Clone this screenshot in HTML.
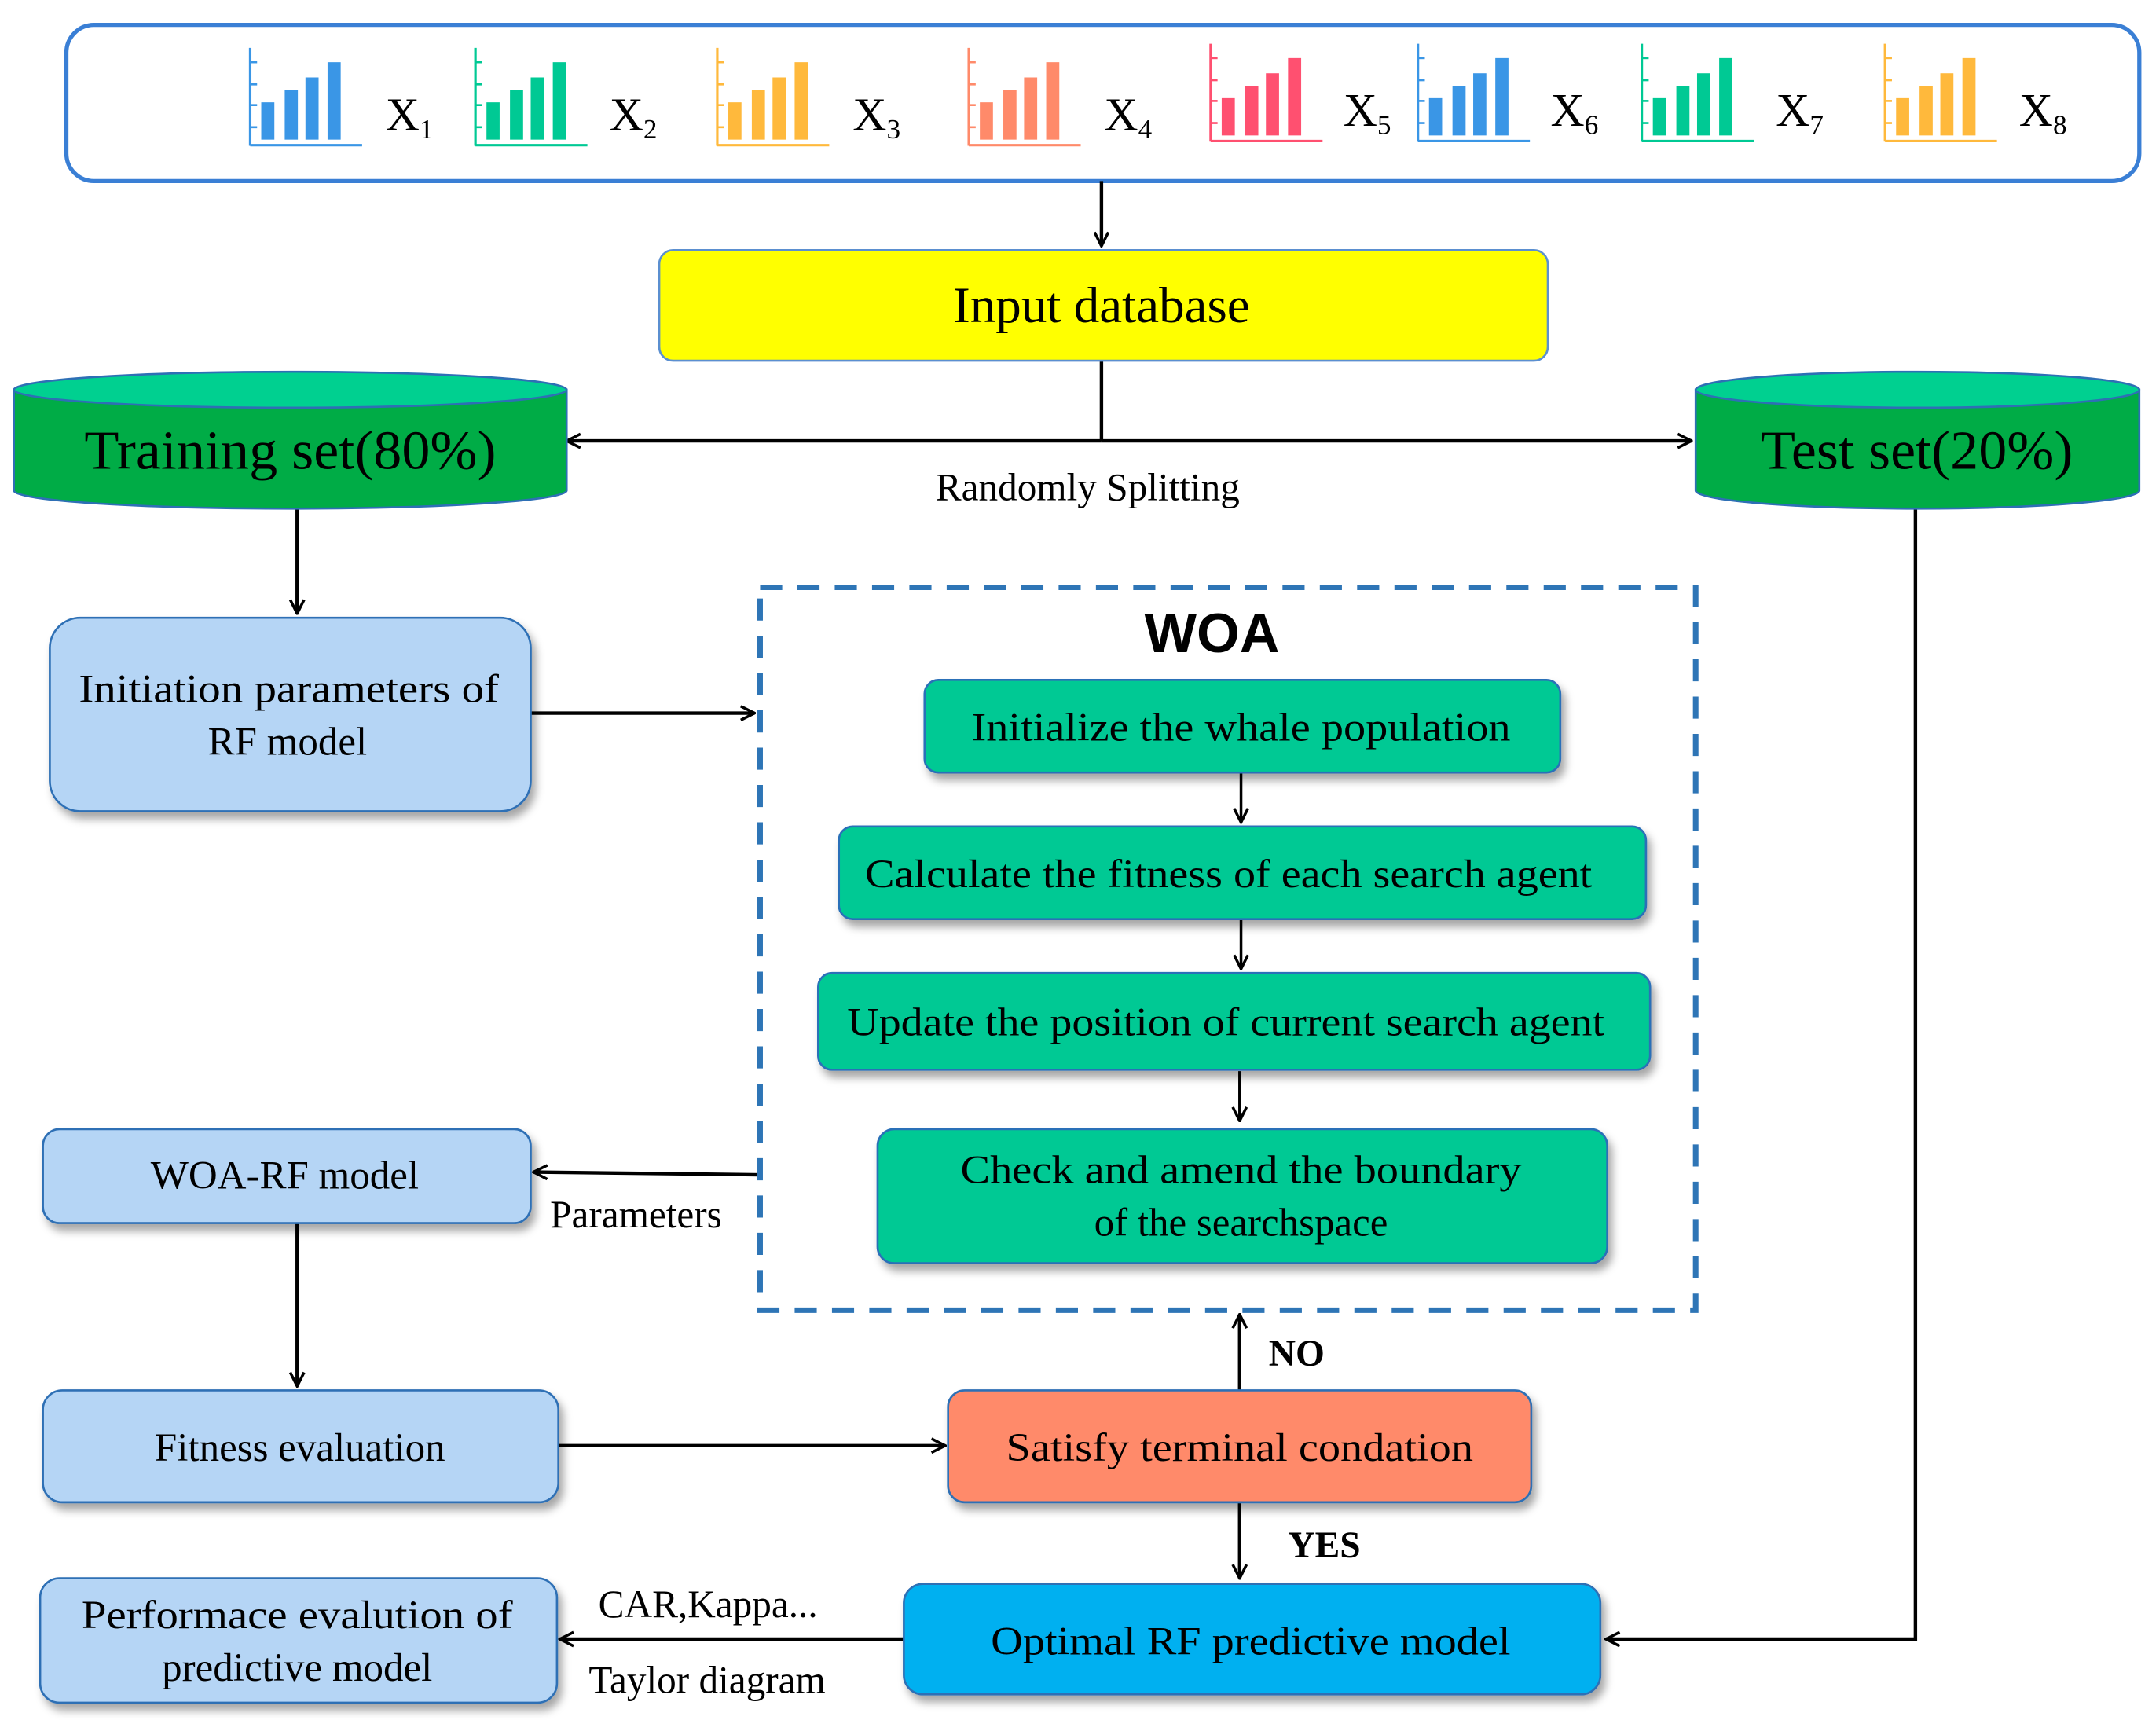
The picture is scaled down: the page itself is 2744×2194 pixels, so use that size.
<!DOCTYPE html>
<html><head><meta charset="utf-8"><style>
html,body{margin:0;padding:0;background:#fff}
svg{display:block}
text{font-family:"Liberation Serif",serif;fill:#000}
</style></head><body>
<svg width="2744" height="2194" viewBox="0 0 1560 1247.4" xmlns="http://www.w3.org/2000/svg">
<defs>
<marker id="ar" viewBox="0 0 12 12" refX="11" refY="6" markerWidth="12" markerHeight="12" markerUnits="userSpaceOnUse" orient="auto">
<path d="M1 1 L11 6 L1 11" fill="none" stroke="#000" stroke-width="2"/>
</marker>
<filter id="sh" x="-10%" y="-10%" width="130%" height="140%">
<feDropShadow dx="3" dy="5" stdDeviation="3" flood-color="#000" flood-opacity="0.35"/>
</filter>
<g id="bars">
<line x1="181" y1="34.6" x2="181" y2="105" stroke="C" stroke-width="1.8"/>
</g>
</defs>

<!-- top box -->
<rect x="48" y="18" width="1500" height="113" rx="20" fill="#fff" stroke="#3a7fd5" stroke-width="3"/>

<!-- icons -->
<g id="ic">
</g>
<script>
</script>
<g>
<!-- icon template repeated -->
<g transform="translate(0,0)" fill="#3a96e6" stroke="#3a96e6">
<line x1="181" y1="34.6" x2="181" y2="105.5" stroke-width="1.8"/><line x1="181" y1="105" x2="262" y2="105" stroke-width="1.8"/>
<g stroke-width="1.5"><line x1="181" y1="45" x2="186" y2="45"/><line x1="181" y1="61" x2="186" y2="61"/><line x1="181" y1="76" x2="186" y2="76"/><line x1="181" y1="92" x2="186" y2="92"/></g>
<rect x="189" y="74" width="9.5" height="27" stroke="none"/><rect x="206" y="65" width="9.5" height="36" stroke="none"/><rect x="221" y="56" width="9.5" height="45" stroke="none"/><rect x="237" y="45" width="9.5" height="56" stroke="none"/>
</g>
<g transform="translate(163,0)" fill="#00c994" stroke="#00c994">
<line x1="181" y1="34.6" x2="181" y2="105.5" stroke-width="1.8"/><line x1="181" y1="105" x2="262" y2="105" stroke-width="1.8"/>
<g stroke-width="1.5"><line x1="181" y1="45" x2="186" y2="45"/><line x1="181" y1="61" x2="186" y2="61"/><line x1="181" y1="76" x2="186" y2="76"/><line x1="181" y1="92" x2="186" y2="92"/></g>
<rect x="189" y="74" width="9.5" height="27" stroke="none"/><rect x="206" y="65" width="9.5" height="36" stroke="none"/><rect x="221" y="56" width="9.5" height="45" stroke="none"/><rect x="237" y="45" width="9.5" height="56" stroke="none"/>
</g>
<g transform="translate(338,0)" fill="#ffb93c" stroke="#ffb93c">
<line x1="181" y1="34.6" x2="181" y2="105.5" stroke-width="1.8"/><line x1="181" y1="105" x2="262" y2="105" stroke-width="1.8"/>
<g stroke-width="1.5"><line x1="181" y1="45" x2="186" y2="45"/><line x1="181" y1="61" x2="186" y2="61"/><line x1="181" y1="76" x2="186" y2="76"/><line x1="181" y1="92" x2="186" y2="92"/></g>
<rect x="189" y="74" width="9.5" height="27" stroke="none"/><rect x="206" y="65" width="9.5" height="36" stroke="none"/><rect x="221" y="56" width="9.5" height="45" stroke="none"/><rect x="237" y="45" width="9.5" height="56" stroke="none"/>
</g>
<g transform="translate(520,0)" fill="#ff8a6a" stroke="#ff8a6a">
<line x1="181" y1="34.6" x2="181" y2="105.5" stroke-width="1.8"/><line x1="181" y1="105" x2="262" y2="105" stroke-width="1.8"/>
<g stroke-width="1.5"><line x1="181" y1="45" x2="186" y2="45"/><line x1="181" y1="61" x2="186" y2="61"/><line x1="181" y1="76" x2="186" y2="76"/><line x1="181" y1="92" x2="186" y2="92"/></g>
<rect x="189" y="74" width="9.5" height="27" stroke="none"/><rect x="206" y="65" width="9.5" height="36" stroke="none"/><rect x="221" y="56" width="9.5" height="45" stroke="none"/><rect x="237" y="45" width="9.5" height="56" stroke="none"/>
</g>
<g transform="translate(695,-3)" fill="#ff5070" stroke="#ff5070">
<line x1="181" y1="34.6" x2="181" y2="105.5" stroke-width="1.8"/><line x1="181" y1="105" x2="262" y2="105" stroke-width="1.8"/>
<g stroke-width="1.5"><line x1="181" y1="45" x2="186" y2="45"/><line x1="181" y1="61" x2="186" y2="61"/><line x1="181" y1="76" x2="186" y2="76"/><line x1="181" y1="92" x2="186" y2="92"/></g>
<rect x="189" y="74" width="9.5" height="27" stroke="none"/><rect x="206" y="65" width="9.5" height="36" stroke="none"/><rect x="221" y="56" width="9.5" height="45" stroke="none"/><rect x="237" y="45" width="9.5" height="56" stroke="none"/>
</g>
<g transform="translate(845,-3)" fill="#3a96e6" stroke="#3a96e6">
<line x1="181" y1="34.6" x2="181" y2="105.5" stroke-width="1.8"/><line x1="181" y1="105" x2="262" y2="105" stroke-width="1.8"/>
<g stroke-width="1.5"><line x1="181" y1="45" x2="186" y2="45"/><line x1="181" y1="61" x2="186" y2="61"/><line x1="181" y1="76" x2="186" y2="76"/><line x1="181" y1="92" x2="186" y2="92"/></g>
<rect x="189" y="74" width="9.5" height="27" stroke="none"/><rect x="206" y="65" width="9.5" height="36" stroke="none"/><rect x="221" y="56" width="9.5" height="45" stroke="none"/><rect x="237" y="45" width="9.5" height="56" stroke="none"/>
</g>
<g transform="translate(1007,-3)" fill="#00c994" stroke="#00c994">
<line x1="181" y1="34.6" x2="181" y2="105.5" stroke-width="1.8"/><line x1="181" y1="105" x2="262" y2="105" stroke-width="1.8"/>
<g stroke-width="1.5"><line x1="181" y1="45" x2="186" y2="45"/><line x1="181" y1="61" x2="186" y2="61"/><line x1="181" y1="76" x2="186" y2="76"/><line x1="181" y1="92" x2="186" y2="92"/></g>
<rect x="189" y="74" width="9.5" height="27" stroke="none"/><rect x="206" y="65" width="9.5" height="36" stroke="none"/><rect x="221" y="56" width="9.5" height="45" stroke="none"/><rect x="237" y="45" width="9.5" height="56" stroke="none"/>
</g>
<g transform="translate(1183,-3)" fill="#ffb93c" stroke="#ffb93c">
<line x1="181" y1="34.6" x2="181" y2="105.5" stroke-width="1.8"/><line x1="181" y1="105" x2="262" y2="105" stroke-width="1.8"/>
<g stroke-width="1.5"><line x1="181" y1="45" x2="186" y2="45"/><line x1="181" y1="61" x2="186" y2="61"/><line x1="181" y1="76" x2="186" y2="76"/><line x1="181" y1="92" x2="186" y2="92"/></g>
<rect x="189" y="74" width="9.5" height="27" stroke="none"/><rect x="206" y="65" width="9.5" height="36" stroke="none"/><rect x="221" y="56" width="9.5" height="45" stroke="none"/><rect x="237" y="45" width="9.5" height="56" stroke="none"/>
</g>
</g>
<g font-size="34">
<text x="279" y="94">X<tspan font-size="20" dy="6">1</tspan></text>
<text x="441" y="94">X<tspan font-size="20" dy="6">2</tspan></text>
<text x="617" y="94">X<tspan font-size="20" dy="6">3</tspan></text>
<text x="799" y="94">X<tspan font-size="20" dy="6">4</tspan></text>
<text x="972" y="91">X<tspan font-size="20" dy="6">5</tspan></text>
<text x="1122" y="91">X<tspan font-size="20" dy="6">6</tspan></text>
<text x="1285" y="91">X<tspan font-size="20" dy="6">7</tspan></text>
<text x="1461" y="91">X<tspan font-size="20" dy="6">8</tspan></text>
</g>

<!-- connectors -->
<g stroke="#000" stroke-width="2.5" fill="none">
<line x1="797" y1="131" x2="797" y2="178" marker-end="url(#ar)"/>
<line x1="797" y1="261" x2="797" y2="319"/>
<line x1="797" y1="319" x2="410" y2="319" marker-end="url(#ar)"/>
<line x1="797" y1="319" x2="1224" y2="319" marker-end="url(#ar)"/>
<line x1="215" y1="368" x2="215" y2="444" marker-end="url(#ar)"/>
<line x1="384" y1="516" x2="546" y2="516" marker-end="url(#ar)"/>
<line x1="550" y1="850" x2="386" y2="848" marker-end="url(#ar)"/>
<line x1="215" y1="885" x2="215" y2="1003" marker-end="url(#ar)"/>
<line x1="404" y1="1046" x2="684" y2="1046" marker-end="url(#ar)"/>
<line x1="897" y1="1006" x2="897" y2="951" marker-end="url(#ar)"/>
<line x1="897" y1="1087" x2="897" y2="1142" marker-end="url(#ar)"/>
<polyline points="1386,368 1386,1186 1162,1186" marker-end="url(#ar)"/>
<line x1="654" y1="1186" x2="405" y2="1186" marker-end="url(#ar)"/>
<line x1="898" y1="559" x2="898" y2="595" marker-end="url(#ar)" stroke-width="2"/>
<line x1="898" y1="665" x2="898" y2="701" marker-end="url(#ar)" stroke-width="2"/>
<line x1="897" y1="775" x2="897" y2="811" marker-end="url(#ar)" stroke-width="2"/>
</g>

<!-- input database -->
<rect x="477" y="181" width="643" height="80" rx="10" fill="#ffff00" stroke="#5b8fd0" stroke-width="1.5"/>
<text x="797" y="233" font-size="37" text-anchor="middle">Input database</text>

<!-- cylinders -->
<g stroke="#2e6fb5" stroke-width="1.5">
<path d="M10 282 L10 355 A200 13 0 0 0 410 355 L410 282 Z" fill="#00ac46"/>
<ellipse cx="210" cy="282" rx="200" ry="13" fill="#00d090"/>
<path d="M1227 282 L1227 355 A160.5 13 0 0 0 1548 355 L1548 282 Z" fill="#00ac46"/>
<ellipse cx="1387.5" cy="282" rx="160.5" ry="13" fill="#00d090"/>
</g>
<text x="210" y="339" font-size="40" text-anchor="middle" textLength="298" lengthAdjust="spacingAndGlyphs">Training  set(80%)</text>
<text x="1387" y="339" font-size="40" text-anchor="middle" textLength="226" lengthAdjust="spacingAndGlyphs">Test set(20%)</text>
<text x="787" y="362" font-size="28" text-anchor="middle">Randomly Splitting</text>

<!-- light blue boxes -->
<g fill="#b5d5f5" stroke="#2e6fb5" stroke-width="1.5" filter="url(#sh)">
<rect x="36" y="447" width="348" height="140" rx="22"/>
<rect x="31" y="817" width="353" height="68" rx="12"/>
<rect x="31" y="1006" width="373" height="81" rx="14"/>
<rect x="29" y="1142" width="374" height="90" rx="14"/>
</g>
<g font-size="29" text-anchor="middle">
<text x="209" y="508" textLength="304" lengthAdjust="spacingAndGlyphs">Initiation  parameters of</text>
<text x="208" y="546">RF model</text>
<text x="206" y="860">WOA-RF model</text>
<text x="217" y="1057">Fitness evaluation</text>
<text x="215" y="1178" textLength="312" lengthAdjust="spacingAndGlyphs">Performace evalution  of</text>
<text x="215" y="1216">predictive model</text>
</g>

<!-- WOA dashed -->
<rect x="550" y="425" width="677" height="523" fill="none" stroke="#2e75b6" stroke-width="4" stroke-dasharray="16 11"/>
<text x="877" y="472" font-size="40" font-weight="bold" text-anchor="middle" style="font-family:'Liberation Sans',sans-serif">WOA</text>

<g fill="#00c994" stroke="#2a6fb8" stroke-width="1.5" filter="url(#sh)">
<rect x="669" y="492" width="460" height="67" rx="10"/>
<rect x="607" y="598" width="584" height="67" rx="10"/>
<rect x="592" y="704" width="602" height="70" rx="10"/>
<rect x="635" y="817" width="528" height="97" rx="12"/>
</g>
<g font-size="29" text-anchor="middle">
<text x="898" y="536" textLength="390" lengthAdjust="spacingAndGlyphs">Initialize  the whale population</text>
<text x="889" y="642" textLength="526" lengthAdjust="spacingAndGlyphs">Calculate  the fitness of each search agent</text>
<text x="887" y="749" textLength="548" lengthAdjust="spacingAndGlyphs">Update the position of current  search agent</text>
<text x="898" y="856" textLength="406" lengthAdjust="spacingAndGlyphs">Check and amend the boundary</text>
<text x="898" y="894">of the searchspace</text>
</g>

<text x="398" y="888" font-size="28">Parameters</text>

<!-- satisfy -->
<rect x="686" y="1006" width="422" height="81" rx="12" fill="#ff8a6a" stroke="#2e6fb5" stroke-width="1.5" filter="url(#sh)"/>
<text x="897" y="1057" font-size="29" text-anchor="middle" textLength="338" lengthAdjust="spacingAndGlyphs">Satisfy terminal  condation</text>
<text x="918" y="988" font-size="27" font-weight="bold">NO</text>
<text x="932" y="1127" font-size="27" font-weight="bold">YES</text>

<!-- optimal -->
<rect x="654" y="1146" width="504" height="80" rx="14" fill="#00b0f0" stroke="#2e6fb5" stroke-width="1.5" filter="url(#sh)"/>
<text x="905" y="1197" font-size="29" text-anchor="middle" textLength="376" lengthAdjust="spacingAndGlyphs">Optimal  RF predictive  model</text>

<text x="433" y="1170" font-size="28">CAR,Kappa...</text>
<text x="426" y="1225" font-size="28">Taylor diagram</text>
</svg>
</body></html>
